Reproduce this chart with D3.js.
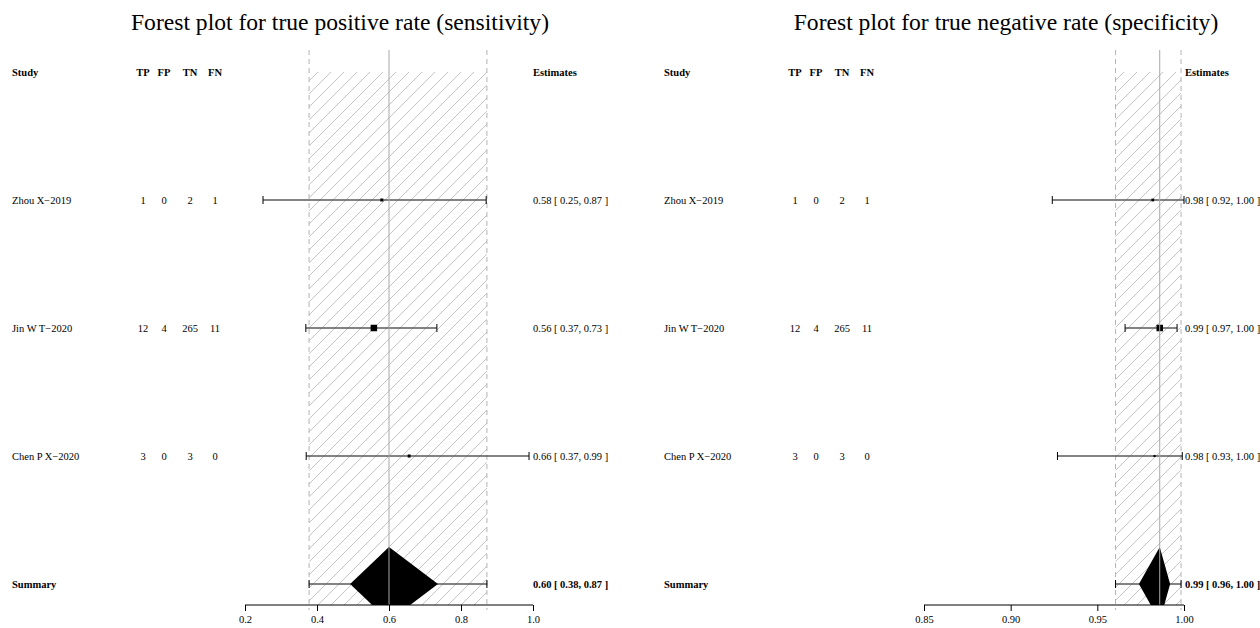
<!DOCTYPE html>
<html>
<head>
<meta charset="utf-8">
<script src="https://cdn.jsdelivr.net/npm/d3@7"></script>
<style>
  body { margin: 0; background: #fff; }
  text { font-family: "Liberation Serif", "Times New Roman", serif; fill: #000; }
</style>
</head>
<body>
<div id="chart"></div>
<script>
// study table
var studies = ["Zhou X\u22122019", "Jin W T\u22122020", "Chen P X\u22122020"];
var tp = [1, 12, 3];
var fp = [0, 4, 0];
var tn = [2, 265, 3];
var fn = [1, 11, 0];

// sensitivity per study + summary
var sensEst = [0.58, 0.558, 0.656];
var sensLo = [0.25, 0.369, 0.37];
var sensHi = [0.87, 0.733, 0.989];
var sensWeight = [15, 70, 15];
var sensSummary = [0.378, 0.60, 0.872];   // lower, estimate, upper
var sensDiamond = [0.492, 0.736];         // diamond left / right
var sensTicks = [0.2, 0.4, 0.6, 0.8, 1.0];

// specificity per study + summary
var specEst = [0.982, 0.986, 0.983];
var specLo = [0.924, 0.966, 0.927];
var specHi = [1.0, 0.996, 0.999];
var specWeight = [14, 78, 8];
var specSummary = [0.9605, 0.986, 0.9983];
var specDiamond = [0.974, 0.992];
var specTicks = [0.85, 0.90, 0.95, 1.00];

function init() {
  var w = 1260;
  var h = 628;

  var svg = d3.select("#chart")
    .append("svg")
    .attr("width", w)
    .attr("height", h);

  // hatch pattern for the summary CI band
  var defs = svg.append("defs");
  defs.append("pattern")
    .attr("id", "hatch")
    .attr("patternUnits", "userSpaceOnUse")
    .attr("width", 13)
    .attr("height", 13)
    .append("path")
    .attr("d", "M-1,1 L1,-1 M0,13 L13,0 M12,14 L14,12")
    .attr("stroke", "#c4c4c4")
    .attr("stroke-width", 1);

  // rows: 0 header, 1..3 studies, 4 summary
  var yRow = d3.scaleLinear().domain([0, 4]).range([72, 584]);
  var axisY = 605;
  var topY = 50;

  var panels = [
    {
      id: "sens", dx: 0, titleX: 340,
      title: "Forest plot for true positive rate (sensitivity)",
      x: d3.scaleLinear().domain([0.2, 1.0]).range([245, 533]),
      ticks: sensTicks, fmt: d3.format(".1f"), estX: 533,
      est: sensEst, lo: sensLo, hi: sensHi, wt: sensWeight,
      sum: sensSummary, dia: sensDiamond
    },
    {
      id: "spec", dx: 652, titleX: 1006,
      title: "Forest plot for true negative rate (specificity)",
      x: d3.scaleLinear().domain([0.85, 1.0]).range([924, 1184]),
      ticks: specTicks, fmt: d3.format(".2f"), estX: 1185,
      est: specEst, lo: specLo, hi: specHi, wt: specWeight,
      sum: specSummary, dia: specDiamond
    }
  ];

  var f2 = d3.format(".2f");

  panels.forEach(function (p) {
    var g = svg.append("g");
    var x = p.x;
    var size = d3.scaleSqrt().domain([0, d3.max(p.wt)]).range([0, 6.5]);

    defs.append("clipPath")
      .attr("id", "clip-" + p.id)
      .append("rect")
      .attr("x", 0).attr("y", 0)
      .attr("width", w).attr("height", axisY);

    // title
    g.append("text")
      .attr("x", p.titleX)
      .attr("y", 30)
      .attr("text-anchor", "middle")
      .attr("font-size", "23.6px")
      .text(p.title);

    // hatched band between summary limits
    g.append("rect")
      .attr("x", x(p.sum[0]))
      .attr("y", yRow(0))
      .attr("width", x(p.sum[2]) - x(p.sum[0]))
      .attr("height", axisY - yRow(0))
      .attr("fill", "url(#hatch)");

    // dashed limits
    g.selectAll(".lim")
      .data([p.sum[0], p.sum[2]])
      .enter()
      .append("line")
      .attr("x1", function (d) { return x(d); })
      .attr("x2", function (d) { return x(d); })
      .attr("y1", topY)
      .attr("y2", axisY + 5)
      .attr("stroke", "#b4b4b4")
      .attr("stroke-dasharray", "5,4");

    // header row
    var cols = [
      { t: "TP", x: 143, v: tp },
      { t: "FP", x: 164, v: fp },
      { t: "TN", x: 190, v: tn },
      { t: "FN", x: 215, v: fn }
    ];
    var headerY = yRow(0);
    g.append("text")
      .attr("x", 12 + p.dx).attr("y", headerY).attr("dy", "0.35em")
      .attr("font-size", "10.5px").attr("font-weight", "bold")
      .text("Study");
    g.append("text")
      .attr("x", p.estX).attr("y", headerY).attr("dy", "0.35em")
      .attr("font-size", "10.5px").attr("font-weight", "bold")
      .text("Estimates");

    cols.forEach(function (c) {
      g.append("text")
        .attr("x", c.x + p.dx).attr("y", headerY).attr("dy", "0.35em")
        .attr("text-anchor", "middle")
        .attr("font-size", "10.5px").attr("font-weight", "bold")
        .text(c.t);
      g.selectAll(null)
        .data(c.v)
        .enter()
        .append("text")
        .attr("x", c.x + p.dx)
        .attr("y", function (d, i) { return yRow(i + 1); })
        .attr("dy", "0.35em")
        .attr("text-anchor", "middle")
        .attr("font-size", "10.5px")
        .text(function (d) { return d; });
    });

    // study names
    g.selectAll(null)
      .data(studies)
      .enter()
      .append("text")
      .attr("x", 12 + p.dx)
      .attr("y", function (d, i) { return yRow(i + 1); })
      .attr("dy", "0.35em")
      .attr("font-size", "10.5px")
      .text(function (d) { return d; });

    // CI lines for studies
    var rows = d3.range(studies.length);
    g.selectAll(".ci")
      .data(rows)
      .enter()
      .append("line")
      .attr("x1", function (i) { return x(p.lo[i]); })
      .attr("x2", function (i) { return x(p.hi[i]); })
      .attr("y1", function (i) { return yRow(i + 1); })
      .attr("y2", function (i) { return yRow(i + 1); })
      .attr("stroke", "#5a5a5a")
      .attr("stroke-width", 1.5);

    // end caps
    rows.forEach(function (i) {
      [p.lo[i], p.hi[i]].forEach(function (v) {
        g.append("line")
          .attr("x1", x(v)).attr("x2", x(v))
          .attr("y1", yRow(i + 1) - 4).attr("y2", yRow(i + 1) + 4)
          .attr("stroke", "#000");
      });
    });

    // squares
    g.selectAll(".sq")
      .data(rows)
      .enter()
      .append("rect")
      .attr("x", function (i) { return x(p.est[i]) - size(p.wt[i]) / 2; })
      .attr("y", function (i) { return yRow(i + 1) - size(p.wt[i]) / 2; })
      .attr("width", function (i) { return size(p.wt[i]); })
      .attr("height", function (i) { return size(p.wt[i]); })
      .attr("fill", "#000");

    // estimate labels
    g.selectAll(".est")
      .data(rows)
      .enter()
      .append("text")
      .attr("x", p.estX)
      .attr("y", function (i) { return yRow(i + 1); })
      .attr("dy", "0.35em")
      .attr("font-size", "10.5px")
      .text(function (i) {
        return f2(p.est[i]) + " [ " + f2(p.lo[i]) + ", " + f2(p.hi[i]) + " ]";
      });

    // summary row
    var sy = yRow(4);
    g.append("text")
      .attr("x", 12 + p.dx).attr("y", sy).attr("dy", "0.35em")
      .attr("font-size", "10.5px").attr("font-weight", "bold")
      .text("Summary");

    g.append("line")
      .attr("x1", x(p.sum[0])).attr("x2", x(p.sum[2]))
      .attr("y1", sy).attr("y2", sy)
      .attr("stroke", "#5a5a5a")
      .attr("stroke-width", 1.5);
    [p.sum[0], p.sum[2]].forEach(function (v) {
      g.append("line")
        .attr("x1", x(v)).attr("x2", x(v))
        .attr("y1", sy - 4).attr("y2", sy + 4)
        .attr("stroke", "#000");
    });

    var half = 37;
    g.append("path")
      .attr("clip-path", "url(#clip-" + p.id + ")")
      .attr("d", "M" + x(p.sum[1]) + "," + (sy - half) +
        " L" + x(p.dia[1]) + "," + sy +
        " L" + x(p.sum[1]) + "," + (sy + half) +
        " L" + x(p.dia[0]) + "," + sy + " Z")
      .attr("fill", "#000");

    g.append("text")
      .attr("x", p.estX).attr("y", sy).attr("dy", "0.35em")
      .attr("font-size", "10.5px").attr("font-weight", "bold")
      .text(f2(p.sum[1]) + " [ " + f2(p.sum[0]) + ", " + f2(p.sum[2]) + " ]");

    // centre line at the summary estimate
    g.append("line")
      .attr("x1", x(p.sum[1])).attr("x2", x(p.sum[1]))
      .attr("y1", topY).attr("y2", axisY)
      .attr("stroke", "#a8a8a8");

    // x axis
    var axis = d3.axisBottom(x)
      .tickValues(p.ticks)
      .tickFormat(p.fmt)
      .tickSize(6)
      .tickPadding(5);
    var ag = g.append("g")
      .attr("transform", "translate(0," + axisY + ")")
      .call(axis);
    ag.select(".domain").attr("stroke", "#000").attr("d",
      "M" + x.range()[0] + ",0H" + x.range()[1]);
    ag.selectAll("text")
      .attr("font-size", "10.5px")
      .attr("font-family", "Liberation Serif, serif");
  });
}

window.onload = init;
</script>
</body>
</html>
